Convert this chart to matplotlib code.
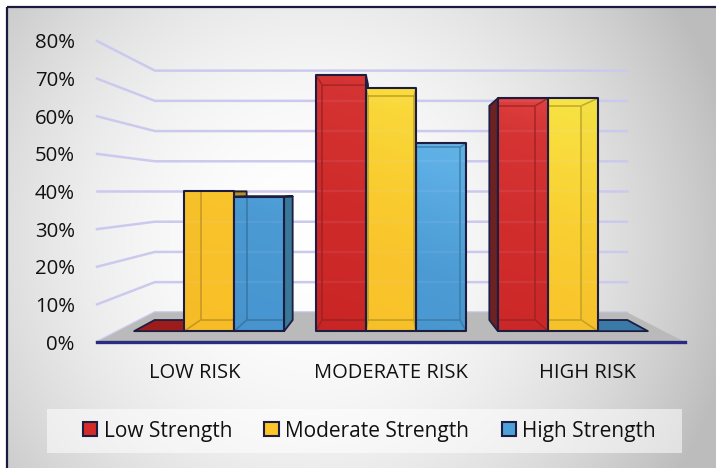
import numpy as np
import matplotlib
matplotlib.use("Agg")
import matplotlib.pyplot as plt
from matplotlib.patches import Polygon, Rectangle, Patch
from matplotlib.colors import to_rgb, LinearSegmentedColormap

plt.rcParams['font.family'] = ['Open Sans', 'DejaVu Sans']

# ---- data -------------------------------------------------------------
categories = ['LOW RISK', 'MODERATE RISK', 'HIGH RISK']
series_names = ['Low Strength', 'Moderate Strength', 'High Strength']
low_strength = [0.0, 73.3, 66.7]
moderate_strength = [40.0, 69.6, 66.7]
high_strength = [38.5, 53.8, 0.0]
y_ticks = [0, 10, 20, 30, 40, 50, 60, 70, 80]

series_values = [low_strength, moderate_strength, high_strength]

# ---- styling ----------------------------------------------------------
face_stops = [
    [(0.0, '#c92222'), (0.45, '#d22c2c'), (0.72, '#d93636'),
     (0.85, '#e84a4a'), (1.0, '#f05858')],
    [(0.0, '#fcc028'), (0.35, '#fcc62c'), (0.55, '#fcd232'),
     (0.73, '#fde040'), (0.85, '#f8ea48'), (1.0, '#f6f050')],
    [(0.0, '#4896d2'), (0.35, '#4c9cd6'), (0.6, '#62b4ea'),
     (1.0, '#78c8f4')],
]
face_cmaps = [LinearSegmentedColormap.from_list(f's{i}', st)
              for i, st in enumerate(face_stops)]
side_cols = ['#6c2222', '#b8932a', '#3a7898']
flat_cols = ['#9c1c1c', '#c99a22', '#3b7aa6']
legend_cols = ['#d42a2a', '#fcc52a', '#4ea0d8']
edge_col = '#1d1d42'
grid_col = '#cbcaee'
text_col = '#111111'

W, H = 716, 468
fig = plt.figure(figsize=(W / 100, H / 100), dpi=100)

# ---- background with radial gradient and border ------------------------
bg = fig.add_axes([0, 0, 1, 1])
bg.set_xlim(0, W)
bg.set_ylim(H, 0)
bg.axis('off')
yy, xx = np.mgrid[0:H, 0:W]
r = np.sqrt(((xx - 310) / 390.0) ** 2 + ((yy - 240) / 390.0) ** 2)
val = np.clip(1 - 0.21 * r ** 2, 0.74, 1.0)
img = np.dstack([val, val, val])
img[:7, :, :] = 1.0
img[:, :7, :] = 1.0
bg.imshow(img, extent=[0, W, H, 0], interpolation='bilinear', aspect='auto')
bg.add_patch(Rectangle((7, 7), W + 10, H + 10, fill=False,
                       edgecolor='#1a1a3c', linewidth=1.6))
bg.add_patch(Rectangle((47, 409), 635, 44, facecolor='white', alpha=0.55,
                       edgecolor='none'))

# ---- plot axes: data units of the front plane --------------------------
ax = fig.add_axes([97 / W, 1 - 342 / H, 588 / W, 301 / H])
ax.set_facecolor('none')
XMIN, XMAX = -0.5, 2.5
ax.set_xlim(XMIN, XMAX)
ax.set_ylim(0, 80)

# perspective: depth w runs from 0 (front of floor) to 1 (back wall)
D = 4.08
EYE_X, EYE_V = 1.0, 40.0
W_FRONT, W_BACK = 0.317, 0.698


def proj(x, v, w):
    s = D / (D + w)
    return EYE_X + (x - EYE_X) * s, EYE_V + (v - EYE_V) * s


# side wall and back wall gridlines
for t in y_ticks:
    p0 = proj(XMIN, t, 0)
    p1 = proj(XMIN, t, 1)
    p2 = proj(XMAX, t, 1)
    ax.plot([p0[0], p1[0], p2[0]], [p0[1], p1[1], p2[1]], color=grid_col,
            lw=1.8, solid_joinstyle='round', zorder=1, clip_on=False)

# floor
floor = [proj(XMIN, 0, 0), proj(XMIN, 0, 1), proj(XMAX, 0, 1), proj(XMAX, 0, 0)]
ax.add_patch(Polygon(floor, closed=True, facecolor='#bababa',
                     edgecolor='none', zorder=2))


def shade(c, f):
    return tuple(min(1, max(0, ch * f)) for ch in to_rgb(c)[:3])


def tone(v, x):
    """Colour position in the series gradient for height v at position x."""
    return np.clip(0.62 * v / 80.0 + 0.38 * (x - XMIN) / (XMAX - XMIN), 0, 1)


FACES = {
    'front': [(0, 0, 0), (1, 0, 0), (1, 1, 0), (0, 1, 0)],
    'back': [(0, 0, 1), (1, 0, 1), (1, 1, 1), (0, 1, 1)],
    'left': [(0, 0, 0), (0, 0, 1), (0, 1, 1), (0, 1, 0)],
    'right': [(1, 0, 0), (1, 0, 1), (1, 1, 1), (1, 1, 0)],
    'top': [(0, 1, 0), (1, 1, 0), (1, 1, 1), (0, 1, 1)],
    'bottom': [(0, 0, 0), (1, 0, 0), (1, 0, 1), (0, 0, 1)],
}
VERTS = [(a, b, c) for a in (0, 1) for b in (0, 1) for c in (0, 1)]
EDGES = [(p, q) for i, p in enumerate(VERTS) for q in VERTS[i + 1:]
         if sum(abs(p[k] - q[k]) for k in range(3)) == 1]


def draw_box(x0, x1, v, k, z):
    cmap = face_cmaps[k]

    def pt(key):
        a, b, c = key
        return proj(x1 if a else x0, v if b else 0.0,
                     W_BACK if c else W_FRONT)

    def face(name):
        return [pt(key) for key in FACES[name]]

    if v <= 0:
        ax.add_patch(Polygon(face('top'), closed=True, facecolor=flat_cols[k],
                             edgecolor=edge_col, lw=1.3, zorder=z + 3,
                             joinstyle='round'))
        return

    visible = ['front']
    if x1 < EYE_X:
        visible.append('right')
    if x0 > EYE_X:
        visible.append('left')
    if v < EYE_V:
        visible.append('top')
    hidden = [f for f in ('bottom', 'back', 'left', 'right', 'top')
              if f not in visible]

    mid = cmap(tone(v / 2, (x0 + x1) / 2))
    for f in hidden:
        fac = {'bottom': 0.86, 'back': 0.93, 'left': 0.84,
               'right': 0.84, 'top': 0.96}[f]
        ax.add_patch(Polygon(face(f), closed=True, facecolor=shade(mid, fac),
                             edgecolor='none', zorder=z))

    # back-wall gridlines seen through the bar
    fx0, fy0 = pt((0, 0, 0))
    fx1, fy1 = pt((1, 1, 0))
    for t in y_ticks[1:]:
        gy = proj(0, t, 1)[1]
        if fy0 < gy < fy1 - 0.4:
            ax.plot([fx0, fx1], [gy, gy], color=grid_col, lw=1.6,
                    alpha=0.55, zorder=z, solid_capstyle='butt')

    # front face, shaded by height and position
    nv, nx = 64, 12
    vv = np.linspace(0, v, nv)[:, None]
    xs = np.linspace(x0, x1, nx)[None, :]
    grad = cmap(tone(vv, xs))
    ax.imshow(grad, extent=[fx0, fx1, fy0, fy1], origin='lower',
              aspect='auto', alpha=0.86, zorder=z + 1, interpolation='bilinear')

    # edges seen through the translucent faces
    vis_keys = set()
    for f in visible:
        keys = FACES[f]
        for i in range(4):
            vis_keys.add(frozenset((keys[i], keys[(i + 1) % 4])))
    for p, q in EDGES:
        if frozenset((p, q)) in vis_keys:
            continue
        a, b = pt(p), pt(q)
        ax.plot([a[0], b[0]], [a[1], b[1]], color=shade(mid, 0.72),
                lw=1.2, alpha=0.75, zorder=z + 2, solid_capstyle='butt')

    for f in visible:
        if f == 'front':
            continue
        col = side_cols[k] if f in ('left', 'right') else shade(mid, 1.0)
        ax.add_patch(Polygon(face(f), closed=True, facecolor=col,
                             edgecolor=edge_col, lw=1.3, zorder=z + 3,
                             joinstyle='round'))
    ax.add_patch(Polygon(face('front'), closed=True, fill=False,
                         edgecolor=edge_col, lw=1.5, zorder=z + 4,
                         joinstyle='round'))


group_w = 0.825
bar_w = group_w / len(series_values)
z = 10
for c in range(len(categories)):
    order = sorted(range(len(series_values)),
                   key=lambda i: -abs(c - group_w / 2 + (i + 0.5) * bar_w - EYE_X))
    for i in order:
        x0 = c - group_w / 2 + i * bar_w
        draw_box(x0, x0 + bar_w, series_values[i][c], i, z)
        z += 10

ax.set_xlim(XMIN, XMAX)
ax.set_ylim(0, 80)

# ---- axes decoration --------------------------------------------------
for s in ('top', 'right', 'left'):
    ax.spines[s].set_visible(False)
ax.spines['bottom'].set_color('#2b2b80')
ax.spines['bottom'].set_linewidth(2.4)
ax.spines['bottom'].set_zorder(5)
ax.set_yticks(y_ticks)
ax.set_yticklabels([f'{t}%' for t in y_ticks])
ax.set_xticks(range(len(categories)))
ax.set_xticklabels(categories)
ax.tick_params(axis='y', length=0, pad=16, labelsize=14.7, labelcolor=text_col)
ax.tick_params(axis='x', length=0, pad=15, labelsize=14.5, labelcolor=text_col)

handles = [Patch(facecolor=legend_cols[i], edgecolor=edge_col, lw=1.5)
           for i in range(len(series_names))]
fig.legend(handles, series_names, loc='center',
           bbox_to_anchor=(369.5 / W, 1 - 431 / H), ncol=3, frameon=False,
           fontsize=15, handlelength=0.7, handleheight=0.65,
           handletextpad=0.3, columnspacing=1.55, labelcolor=text_col)

fig.savefig('out.png', dpi=100)
